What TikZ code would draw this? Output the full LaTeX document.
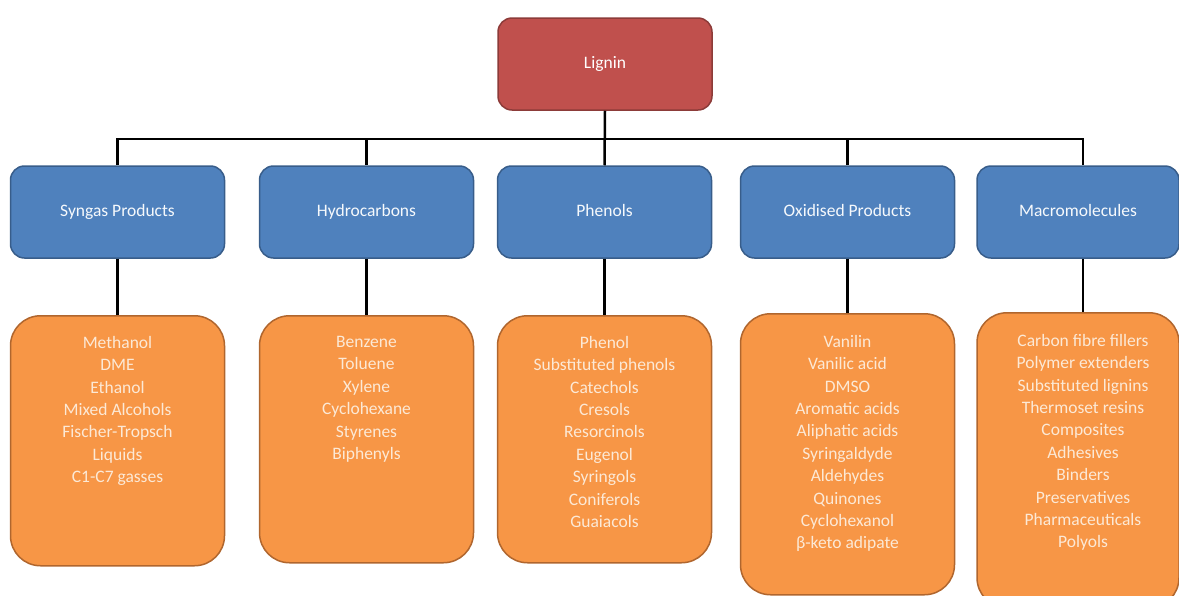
\documentclass[tikz,border=0pt]{standalone}
\usepackage{fontspec}
\setmainfont{Carlito}
\usetikzlibrary{positioning}

\definecolor{ligninred}{HTML}{C0504D}
\definecolor{ligninedge}{HTML}{8C3B39}
\definecolor{groupblue}{HTML}{4F81BD}
\definecolor{groupedge}{HTML}{385D8A}
\definecolor{listorange}{HTML}{F79646}
\definecolor{listedge}{HTML}{B0662E}
\definecolor{listink}{HTML}{FCE9D6}

\tikzset{
    box/.style={draw, line width=1.5pt, rounded corners=14pt, minimum width=214pt,
        minimum height=92pt, inner sep=0pt, align=center, text height=12pt, text depth=3pt,
        font=\fontsize{17.5}{22.4}\selectfont},
    topbox/.style={box, fill=ligninred, draw=ligninedge, text=white},
    groupbox/.style={box, fill=groupblue, draw=groupedge, text=white!95!groupblue},
    listbox/.style={box, anchor=north, rounded corners=30pt, fill=listorange, draw=listedge},
    listtext/.style={inner sep=0pt, align=center, text=listink,
        font=\fontsize{17.5}{22.4}\selectfont},
    link/.style={line width=2.5pt}
}

\begin{document}
\begin{tikzpicture}[x=1pt, y=-1pt]
    \useasboundingbox (0,0) rectangle (1179,595);

    \node[topbox] (lig) at (605,64) {Lignin};

    \node[groupbox] (syn) at (117.5,212) {Syngas Products};
    \node[groupbox] (hyd) at (366.5,212) {Hydrocarbons};
    \node[groupbox] (phe) at (604.5,212) {Phenols};
    \node[groupbox] (oxi) at (847.5,212) {Oxidised Products};
    \node[groupbox, minimum width=202pt] (mac) at (1078,212) {Macromolecules};

    \node[listbox, minimum height=250pt] (synlist) at (117.5,315) {};
    \node[listbox, minimum height=247pt] (hydlist) at (366.5,315) {};
    \node[listbox, minimum height=247pt] (phelist) at (604.5,315) {};
    \node[listbox, minimum height=281pt] (oxilist) at (847.5,313) {};
    \node[listbox, minimum height=295pt, minimum width=202pt] (maclist) at (1078,312) {};

    \node[listtext, below=21pt of synlist.north] {Methanol\\DME\\Ethanol\\Mixed Alcohols\\
        Fischer-Tropsch\\Liquids\\C1-C7 gasses};
    \node[listtext, below=21pt of hydlist.north] {Benzene\\Toluene\\Xylene\\Cyclohexane\\
        Styrenes\\Biphenyls};
    \node[listtext, below=21pt of phelist.north] {Phenol\\Substituted phenols\\Catechols\\
        Cresols\\Resorcinols\\Eugenol\\Syringols\\Coniferols\\Guaiacols};
    \node[listtext, below=22pt of oxilist.north] {Vanilin\\Vanilic acid\\DMSO\\Aromatic acids\\
        Aliphatic acids\\Syringaldyde\\Aldehydes\\Quinones\\Cyclohexanol\\β-keto adipate};
    \node[listtext, below=22pt of maclist.north, xshift=5pt] {Carbon fibre fillers\\
        Polymer extenders\\Substituted lignins\\Thermoset resins\\Composites\\Adhesives\\
        Binders\\Preservatives\\Pharmaceuticals\\Polyols};

    \draw[link] (lig.south) -- ++(0,28) -| (syn.north);
    \draw[link] (lig.south) -- ++(0,28) -| (hyd.north);
    \draw[link] (lig.south) -- (phe.north);
    \draw[link] (lig.south) -- ++(0,28) -| (oxi.north);
    \draw[link] (lig.south) -- ++(0,28) -| ([xshift=5pt]mac.north);

    \draw[link] (syn.south) -- (synlist.north);
    \draw[link] (hyd.south) -- (hydlist.north);
    \draw[link] (phe.south) -- (phelist.north);
    \draw[link] (oxi.south) -- (oxilist.north);
    \draw[link] ([xshift=5pt]mac.south) -- ([xshift=5pt]maclist.north);
\end{tikzpicture}
\end{document}
